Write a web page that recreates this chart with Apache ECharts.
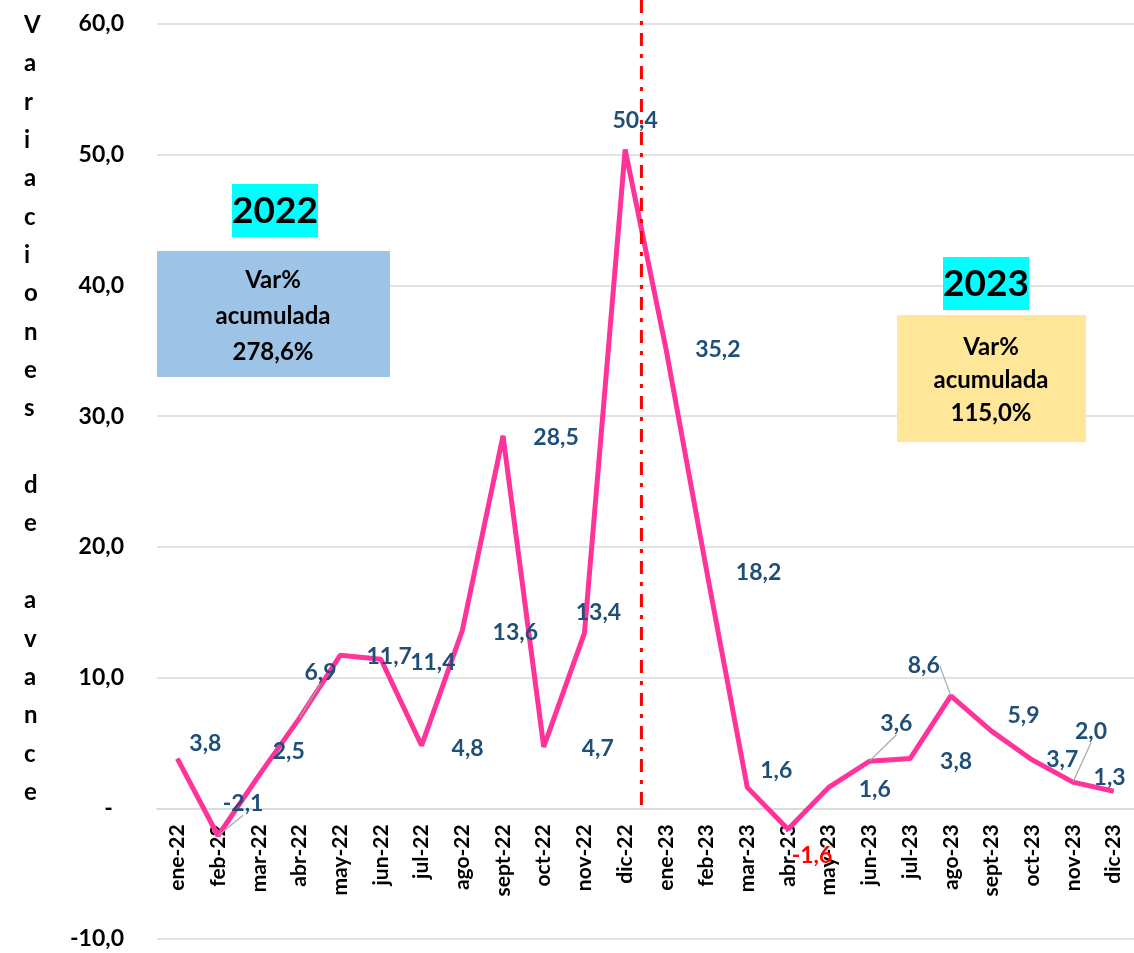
<!DOCTYPE html>
<html>
<head>
<meta charset="utf-8">
<title>Variaciones de avance</title>
<script src="https://cdn.jsdelivr.net/npm/echarts@6/dist/echarts.min.js"></script>
<style>
    html, body { margin: 0; padding: 0; background: #fff; }
    #chart { width: 1134px; height: 953px; }
</style>
</head>
<body>
<div id="chart"></div>
<script>
// datos
const months = ['ene-22', 'feb-22', 'mar-22', 'abr-22', 'may-22', 'jun-22', 'jul-22', 'ago-22', 'sept-22', 'oct-22', 'nov-22', 'dic-22',
    'ene-23', 'feb-23', 'mar-23', 'abr-23', 'may-23', 'jun-23', 'jul-23', 'ago-23', 'sept-23', 'oct-23', 'nov-23', 'dic-23'];
const variacion = [3.8, -2.1, 2.5, 6.9, 11.7, 11.4, 4.8, 13.6, 28.5, 4.7, 13.4, 50.4,
    35.2, 18.2, 1.6, -1.6, 1.6, 3.6, 3.8, 8.6, 5.9, 3.7, 2.0, 1.3];
const yTicks = { min: -10, max: 60, step: 10 };
const acumulado = { '2022': '278,6%', '2023': '115,0%' };

// desplazamiento de etiquetas (como en el original de Excel)
const labelShift = [[28, -15], [25, -32], [30, -24], [21, -46], [49, 1], [52, 3], [46, 3], [53, 2], [53, 2], [54, 2], [14, -21], [10, -29],
    [52, 1], [52, 2], [29, -17], [24, 26], [46, 2], [27, -38], [46, 3], [-27, -30], [32, -16], [30, 0], [18, -51], [-4, -14]];
const withLeader = [1, 3, 17, 19, 22];

const FONT = 'Lato, "Open Sans", sans-serif';
const fmt = v => v.toFixed(1).replace('.', ',');

const GRID = { left: 157, right: 0, top: 24, bottom: 14 };
const plotH = 953 - GRID.top - GRID.bottom;
// el eje de categorías va sobre la línea del cero
const zeroOffset = -(0 - yTicks.min) / (yTicks.max - yTicks.min) * plotH;

const chart = echarts.init(document.getElementById('chart'));

const seriesData = variacion.map((v, i) => {
    const item = { value: v };
    if (v < 0 && i > 11) item.label = { color: '#ff0000' };
    if (withLeader.includes(i)) item.labelLine = { show: true };
    return item;
});

const option = {
    backgroundColor: '#fff',
    animation: false,
    textStyle: { fontFamily: FONT },
    grid: Object.assign({ containLabel: false, outerBoundsMode: 'none' }, GRID),
    xAxis: {
        type: 'category',
        data: months,
        position: 'bottom',
        offset: zeroOffset,
        axisLine: { onZero: false, lineStyle: { color: '#d9d9d9', width: 1.5 } },
        axisTick: { show: false },
        axisLabel: { rotate: 90, interval: 0, margin: 16, color: '#000', fontWeight: 'bold', fontSize: 21, fontFamily: FONT }
    },
    yAxis: {
        type: 'value',
        min: yTicks.min, max: yTicks.max, interval: yTicks.step,
        axisLine: { show: false },
        axisTick: { show: false },
        splitLine: { lineStyle: { color: '#d9d9d9', width: 1.5 } },
        axisLabel: {
            margin: 33, color: '#000', fontWeight: 'bold', fontSize: 23, fontFamily: FONT,
            formatter: v => v === 0 ? '-  ' : fmt(v)
        }
    },
    series: [{
        type: 'line',
        data: seriesData,
        symbol: 'circle',
        symbolSize: 1,
        showSymbol: true,
        lineStyle: { color: '#ff3399', width: 5 },
        itemStyle: { color: '#ff3399' },
        label: {
            show: true, position: 'inside',
            color: '#1f4e79', fontWeight: 'bold', fontSize: 23, fontFamily: FONT,
            formatter: p => fmt(p.value)
        },
        labelLine: { show: false, lineStyle: { color: '#a6a6a6', width: 1.2 } },
        labelLayout: p => ({ dx: labelShift[p.dataIndex][0], dy: labelShift[p.dataIndex][1] })
    }],
    graphic: [
        {
            type: 'text', left: 24, top: 6, z: 100,
            style: {
                text: 'Variaciones de avance'.split('').join('\n'),
                font: 'bold 24px ' + FONT, fill: '#000', lineHeight: 38.35, align: 'center'
            }
        },
        { type: 'rect', z: 100, shape: { x: 232, y: 184, width: 86, height: 53 }, style: { fill: '#00ffff' } },
        { type: 'text', z: 101, style: { x: 275, y: 211, text: '2022', font: 'bold 37px ' + FONT, fill: '#000', align: 'center', verticalAlign: 'middle' } },
        { type: 'rect', z: 100, shape: { x: 157, y: 251, width: 233, height: 126 }, style: { fill: '#9dc3e6' } },
        { type: 'text', z: 101, style: { x: 273, y: 316, text: 'Var%\nacumulada\n' + acumulado['2022'], font: 'bold 24px ' + FONT, fill: '#000', align: 'center', verticalAlign: 'middle', lineHeight: 36 } },
        { type: 'rect', z: 100, shape: { x: 943, y: 257, width: 86, height: 53 }, style: { fill: '#00ffff' } },
        { type: 'text', z: 101, style: { x: 986, y: 284, text: '2023', font: 'bold 37px ' + FONT, fill: '#000', align: 'center', verticalAlign: 'middle' } },
        { type: 'rect', z: 100, shape: { x: 897, y: 315, width: 189, height: 127 }, style: { fill: '#ffe699' } },
        { type: 'text', z: 101, style: { x: 991, y: 380, text: 'Var%\nacumulada\n' + acumulado['2023'], font: 'bold 24px ' + FONT, fill: '#000', align: 'center', verticalAlign: 'middle', lineHeight: 33 } }
    ]
};

chart.setOption(option);

// línea divisoria entre dic-22 y ene-23
const xA = chart.convertToPixel({ xAxisIndex: 0 }, 'dic-22');
const xB = chart.convertToPixel({ xAxisIndex: 0 }, 'ene-23');
const xDiv = xA + (xB - xA) * 0.4;
const yZero = chart.convertToPixel({ yAxisIndex: 0 }, 0);
chart.setOption({
    graphic: [{
        type: 'line', id: 'divisor', z: 50,
        shape: { x1: xDiv, y1: 0, x2: xDiv, y2: yZero + 4 },
        style: { stroke: '#ff0000', lineWidth: 3, lineDash: [13, 8, 4, 8] }
    }]
});
</script>
</body>
</html>
